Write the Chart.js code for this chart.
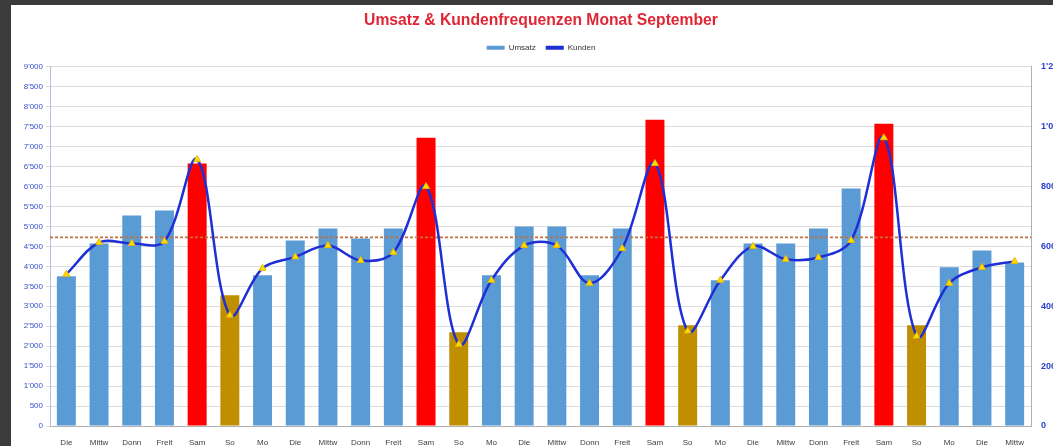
<!DOCTYPE html>
<html>
<head>
<meta charset="utf-8">
<script src="https://cdn.jsdelivr.net/npm/chart.js@4.4.1/dist/chart.umd.min.js"></script>
<style>
  html, body { margin: 0; padding: 0; background: #3b3b3b; width: 1053px; height: 446px; overflow: hidden; }
  #wrap { position: absolute; left: 11px; top: 5px; width: 1060px; height: 441px; background: #ffffff; }
  canvas { display: block; }
</style>
</head>
<body>
<div id="wrap"><canvas id="c" width="1060" height="441"></canvas></div>
<script>
const categories = ["Die","Mittw","Donn","Freit","Sam","So","Mo","Die","Mittw","Donn","Freit","Sam","So","Mo","Die","Mittw","Donn","Freit","Sam","So","Mo","Die","Mittw","Donn","Freit","Sam","So","Mo","Die","Mittw"];
const umsatz = [3750,4575,5275,5400,6575,3275,3775,4650,4950,4700,4950,7225,2350,3775,5000,5000,3775,4950,7675,2525,3650,4575,4575,4950,5950,7575,2525,3975,4400,4100];
const kunden = [507,613,610,617,890,370,527,565,603,553,580,800,273,487,603,603,477,593,877,317,487,600,557,563,620,963,300,477,530,550];
const umsatzAverage = [4725,4725];
const leftTickLabels = ["0","500","1'000","1'500","2'000","2'500","3'000","3'500","4'000","4'500","5'000","5'500","6'000","6'500","7'000","7'500","8'000","8'500","9'000"];
const rightTickLabels = ["0","200","400","600","800","1'000","1'200"];

const barColors = categories.map(d => d === "Sam" ? "#ff0000" : (d === "So" ? "#bf8f00" : "#5b9bd5"));

const legendSpace = {
  id: "legendSpace",
  beforeLayout(chart) {
    const lg = chart.legend;
    if (lg && !lg._patched) {
      const f = lg.fit;
      lg.fit = function () { f.call(this); this.height += 5; };
      lg._patched = true;
    }
  }
};

new Chart(document.getElementById("c"), {
  type: "bar",
  plugins: [legendSpace],
  data: {
    labels: categories,
    datasets: [
      {
        type: "line",
        label: "Kunden",
        data: kunden,
        yAxisID: "y2",
        borderColor: "#1f2fd6",
        borderWidth: 2.5,
        tension: 0.35,
        pointStyle: "triangle",
        pointRadius: 4,
        pointBackgroundColor: "#ffdd00",
        pointBorderColor: "#e8b800",
        pointBorderWidth: 1,
        order: 1
      },
      {
        type: "line",
        label: "Durchschnitt",
        data: umsatzAverage.map((v, i) => ({ x: i, y: v })),
        xAxisID: "xAvg",
        yAxisID: "y",
        borderColor: "#c07040",
        borderWidth: 1.8,
        borderDash: [3, 2],
        pointRadius: 0,
        order: 2
      },
      {
        type: "bar",
        label: "Umsatz",
        data: umsatz,
        xAxisID: "x",
        yAxisID: "y",
        backgroundColor: barColors,
        barPercentage: 0.58,
        categoryPercentage: 1.0,
        grouped: false,
        order: 3
      }
    ]
  },
  options: {
    responsive: false,
    animation: false,
    layout: { padding: { left: 0, right: 0, top: 0, bottom: 0 } },
    plugins: {
      title: {
        display: true,
        text: "Umsatz & Kundenfrequenzen Monat September",
        color: "#e02535",
        font: { family: "Liberation Sans", size: 15.7, weight: "bold" },
        padding: { top: 6, bottom: 4 }
      },
      legend: {
        display: true,
        labels: {
          font: { family: "Liberation Sans", size: 8 },
          color: "#333333",
          boxWidth: 18,
          boxHeight: 4,
          padding: 10,
          generateLabels: chart => [
            { text: "Umsatz", fillStyle: "#5b9bd5", strokeStyle: "#5b9bd5", lineWidth: 0, datasetIndex: 2, fontColor: "#333" },
            { text: "Kunden", fillStyle: "#1f2fd6", strokeStyle: "#1f2fd6", lineWidth: 0, datasetIndex: 0, fontColor: "#333" }
          ]
        }
      },
      tooltip: { enabled: false }
    },
    scales: {
      x: {
        type: "category",
        grid: { display: false },
        border: { color: "#b0b0b0" },
        ticks: { color: "#404040", font: { family: "Liberation Sans", size: 8 }, maxRotation: 0, autoSkip: false, padding: 4 },
        afterFit: s => { s.height = 20; }
      },
      xAvg: {
        type: "linear",
        display: false,
        min: 0,
        max: 1,
        offset: false
      },
      y: {
        position: "left",
        min: 0,
        max: 9000,
        ticks: {
          stepSize: 500,
          color: "#3550c8",
          font: { family: "Liberation Sans", size: 8 },
          padding: 3,
          callback: (v, i) => leftTickLabels[i]
        },
        grid: { color: "#dcdcdc", lineWidth: 1, tickLength: 4 },
        border: { color: "#b8c0d8" },
        afterFit: s => { s.width = 39; }
      },
      y2: {
        position: "right",
        min: 0,
        max: 1200,
        ticks: {
          stepSize: 200,
          color: "#2a40d0",
          font: { family: "Liberation Sans", size: 9, weight: "bold" },
          padding: 2,
          callback: (v, i) => rightTickLabels[i]
        },
        grid: { display: false },
        border: { color: "#b0b0b0" },
        afterFit: s => { s.width = 40; }
      }
    }
  }
});
</script>
</body>
</html>
